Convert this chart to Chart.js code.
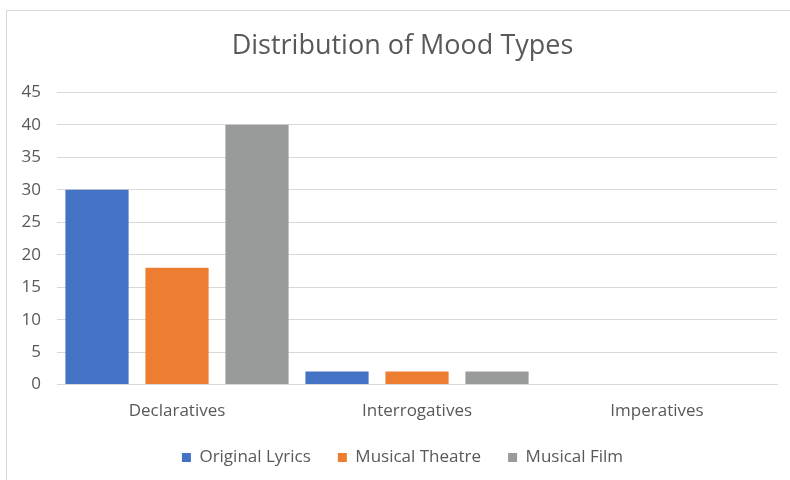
<!DOCTYPE html>
<html>
<head>
<meta charset="utf-8">
<script src="https://cdn.jsdelivr.net/npm/chart.js@4"></script>
<style>
    body{ margin:0; background:#fff; overflow:hidden; }
    #frame{ position:absolute; left:6px; top:10px; width:820px; height:500px; border:1px solid #d9d9d9; box-sizing:border-box; }
    #wrap{ position:absolute; left:0; top:0; width:790px; height:480px; overflow:hidden; }
</style>
</head>
<body>
<div id="frame"></div>
<div id="wrap"><canvas id="chart1" width="805" height="491"></canvas></div>
<script>
// ------------------------------- DATA

var categories = ['Declaratives', 'Interrogatives', 'Imperatives']
var originalLyrics = [30, 2, 0]
var musicalTheatre = [18, 2, 0]
var musicalFilm = [40, 2, 0]

var textCol = '#595959'
var font = '"Open Sans", sans-serif'

// legend sits closer to the axis labels than its item spacing would allow
var legendLift = {
    id: 'legendLift',
    afterLayout: (chart) => {
        chart.legend.top -= 15
        chart.legend.bottom -= 15
    }
}

var ctx = document.getElementById('chart1')
var chart = new Chart(ctx, {
    type: 'bar',
    data: {
        labels: categories,
        datasets: [
            { label: 'Original Lyrics', data: originalLyrics, backgroundColor: '#4472C4' },
            { label: 'Musical Theatre', data: musicalTheatre, backgroundColor: '#ED7D31' },
            { label: 'Musical Film', data: musicalFilm, backgroundColor: '#999B9B' }
        ]
    },
    options: {
        responsive: false,
        animation: false,
        categoryPercentage: 1.0,
        barPercentage: 0.79,
        layout: { padding: 0 },
        scales: {
            x: {
                grid: { display: false, drawTicks: false },
                border: { color: '#d9d9d9' },
                ticks: { color: textCol, font: { family: font, size: 17 }, padding: 16 }
            },
            y: {
                min: 0,
                max: 45,
                ticks: { stepSize: 5, color: textCol, font: { family: font, size: 17 }, padding: 16 },
                grid: { color: '#d9d9d9', drawTicks: false },
                border: { display: false },
                afterFit: (s) => { s.width = 57 }
            },
            // empty right gutter so title and legend centre on the frame
            gutter: {
                position: 'right',
                display: true,
                ticks: { display: false },
                grid: { display: false, drawTicks: false },
                border: { display: false },
                afterFit: (s) => { s.width = 28 }
            }
        },
        plugins: {
            title: {
                display: true,
                text: 'Distribution of Mood Types',
                color: textCol,
                font: { family: font, size: 27, weight: 'normal' },
                padding: { top: 30, bottom: 30 }
            },
            legend: {
                position: 'bottom',
                labels: {
                    color: textCol,
                    font: { family: font, size: 17 },
                    boxWidth: 9,
                    boxHeight: 9,
                    padding: 27
                }
            },
            tooltip: { enabled: false }
        }
    },
    plugins: [legendLift]
})
</script>
</body>
</html>
